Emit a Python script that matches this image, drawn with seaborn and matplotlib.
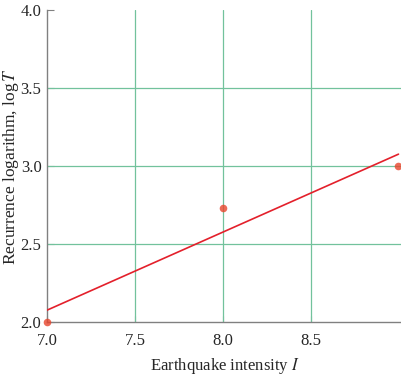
import matplotlib
matplotlib.use("Agg")
import matplotlib.pyplot as plt
import seaborn as sns
import pandas as pd

intensity = [7.0, 8.0, 9.0]
log_recurrence = [2.0, 2.73, 3.0]
x_ticks = [7.0, 7.5, 8.0, 8.5]
y_ticks = [2.0, 2.5, 3.0, 3.5, 4.0]

sns.set_style("white")
plt.rcParams['font.family'] = ['Liberation Serif', 'DejaVu Serif']
plt.rcParams['mathtext.fontset'] = 'stix'

df = pd.DataFrame({"I": intensity, "logT": log_recurrence})

fig = plt.figure(figsize=(4.02, 3.75), dpi=100)
ax = fig.add_axes([0.117, 0.141, 0.883, 0.832])

sns.regplot(data=df, x="I", y="logT", ax=ax, ci=None, truncate=True,
            scatter_kws=dict(color="#e8452c", s=30, clip_on=False, zorder=5, linewidths=0),
            line_kws=dict(color="#e3202b", lw=1.2, zorder=4))

ax.set_xlim(7.0, 9.02)
ax.set_ylim(2.0, 4.0)
ax.set_xticks(x_ticks)
ax.set_yticks(y_ticks)
ax.set_xticklabels([f"{v:.1f}" for v in x_ticks])
ax.set_yticklabels([f"{v:.1f}" for v in y_ticks])

for v in [7.5, 8.0, 8.5]:
    ax.axvline(v, color="#72c29c", lw=0.9, zorder=1)
for v in [2.5, 3.0, 3.5]:
    ax.axhline(v, color="#72c29c", lw=0.9, zorder=1)

for s in ["top", "right"]:
    ax.spines[s].set_visible(False)
for s in ["left", "bottom"]:
    ax.spines[s].set_color("#808080")
    ax.spines[s].set_linewidth(1.0)

ax.tick_params(axis="y", direction="in", length=5, color="#808080", labelsize=12, pad=4, left=True)
ax.tick_params(axis="x", direction="in", length=4, color="#808080", labelsize=12, pad=8, bottom=True)

ax.set_xlabel("Earthquake intensity $I$", fontsize=12, labelpad=5)
ax.set_ylabel(r"Recurrence logarithm, log$\,T$", fontsize=12.5)
ax.yaxis.set_label_coords(-0.074, 0.5)

fig.savefig("out.png", dpi=100)
